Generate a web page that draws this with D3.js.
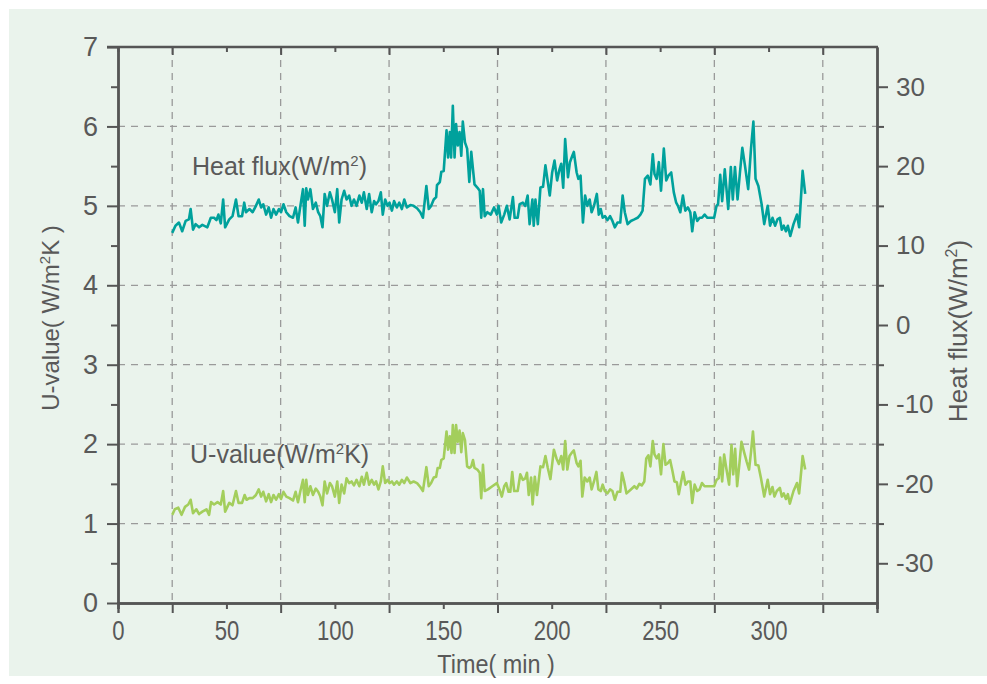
<!DOCTYPE html>
<html><head><meta charset="utf-8">
<script src="https://cdn.jsdelivr.net/npm/d3@7"></script>
<style>
html,body{margin:0;padding:0;background:#ffffff;}
svg{display:block;font-family:"Liberation Sans",Arial,sans-serif;}
</style></head>
<body><svg id="c" width="987" height="684"></svg>
<script>
// ---- data ----
const xLabelTicks = [0, 50, 100, 150, 200, 250, 300];
const xMajorTicks = [25, 75, 125, 175, 225, 275, 325];
const yLeftTicks = [0, 1, 2, 3, 4, 5, 6, 7];
const yRightTicks = [-30, -20, -10, 0, 10, 20, 30];

const hfTime = [25.0,26.5,28.1,29.6,31.2,32.7,33.5,34.6,35.8,37.4,38.9,41.2,42.8,44.3,45.4,46.3,47.4,48.5,49.4,51.3,52.8,54.4,55.6,57.2,58.2,59.0,60.6,62.1,63.6,64.9,66.0,67.0,68.3,69.5,70.6,71.7,72.9,74.2,75.2,76.3,77.6,79.1,80.7,81.9,83.0,84.1,85.3,86.1,86.8,87.6,88.7,89.9,91.2,92.3,93.3,94.3,95.3,96.4,97.7,98.7,100.0,101.1,102.0,103.1,104.3,105.4,106.6,107.7,108.8,110.0,111.3,112.4,113.4,114.7,115.8,117.0,118.1,119.0,120.1,121.2,122.1,123.2,124.3,125.2,126.3,127.3,128.6,129.7,130.9,132.0,133.2,134.8,136.3,137.9,139.4,140.6,142.2,143.3,144.4,145.6,146.7,147.1,148.4,149.1,150.2,151.5,152.2,153.0,153.6,154.4,155.2,155.9,156.7,157.5,158.3,159.0,160.0,161.0,162.0,162.9,163.7,164.4,165.7,166.8,167.5,168.3,169.1,170.3,171.9,173.4,174.7,
175.5,176.7,178.1,179.3,180.6,182.1,182.9,184.3,185.2,186.7,187.8,188.9,189.8,191.1,191.7,192.5,193.6,194.8,196.0,197.1,198.2,199.1,200.2,201.3,202.5,203.6,204.4,205.3,206.2,207.5,208.4,209.5,210.2,211.5,212.3,213.3,214.4,215.4,216.4,217.5,218.4,219.5,220.8,221.7,222.6,223.5,224.6,225.7,226.9,228.0,229.1,230.3,231.6,232.7,233.7,235.0,236.5,238.1,239.6,240.9,241.9,243.0,244.3,245.5,246.6,247.4,248.4,249.4,250.4,251.7,252.8,253.8,255.1,256.3,257.4,258.2,259.3,260.5,261.6,262.8,263.9,264.8,265.9,267.1,268.2,269.3,270.5,271.8,272.9,274.9,276.0,276.7,277.7,278.6,279.8,281.4,282.6,283.5,284.5,285.7,286.8,287.9,289.1,290.6,291.9,293.0,294.0,295.3,296.8,298.0,299.6,300.7,301.8,303.0,304.1,305.2,306.1,307.0,308.0,308.9,310.0,311.5,313.1,314.1,315.7,316.9];
const hfValue = [11.6,12.5,12.9,11.8,13.1,13.3,14.6,12.0,12.7,12.3,12.6,12.3,13.5,13.5,13.2,13.9,12.8,15.8,12.3,13.3,13.7,15.8,13.7,13.7,15.4,14.2,14.6,14.2,15.0,15.8,14.8,15.2,13.9,14.8,13.5,14.6,13.9,14.6,14.2,15.2,14.2,13.7,13.5,14.8,12.9,15.0,17.1,12.5,17.2,15.8,17.1,14.6,15.4,14.2,13.7,12.3,16.5,15.0,16.7,15.8,14.2,17.1,12.9,15.8,16.9,15.8,16.3,15.0,15.8,15.0,16.3,15.4,16.7,14.6,16.5,14.2,15.6,15.2,15.6,16.7,13.9,15.8,15.0,15.4,14.4,15.6,14.8,15.4,14.6,15.8,14.8,15.1,15.0,14.7,14.2,13.5,17.5,14.6,15.0,15.8,16.1,17.6,18.0,19.3,19.4,24.5,21.1,24.3,21.1,27.6,21.1,25.3,22.6,24.3,21.3,25.6,23.0,22.2,18.0,21.8,19.6,17.7,17.3,16.9,13.5,17.1,13.7,14.2,13.9,14.8,13.9,
15.0,12.9,13.9,15.0,13.3,16.1,13.5,13.5,15.2,15.4,15.0,16.3,12.7,15.8,12.5,15.8,12.7,17.3,17.4,20.1,18.0,16.3,19.2,20.7,18.2,19.6,20.3,17.3,23.4,18.6,20.5,21.3,21.8,19.2,18.4,18.8,12.9,16.3,15.0,15.8,14.2,15.0,16.5,13.9,14.6,13.5,13.7,13.2,13.7,13.1,12.3,12.9,12.9,16.3,14.2,12.7,13.1,13.3,13.5,13.9,14.4,18.4,18.8,17.7,21.5,19.0,18.4,20.5,16.9,22.2,18.2,18.8,19.2,16.7,15.4,15.0,14.2,16.3,14.4,14.8,14.2,11.8,14.2,13.1,13.5,13.5,13.9,13.5,13.5,13.5,15.0,15.2,18.9,15.6,19.6,14.6,19.9,15.8,19.9,15.8,19.2,22.3,20.1,17.1,22.2,25.6,18.4,17.5,15.2,12.7,15.0,12.5,13.5,12.5,13.3,13.5,12.0,12.5,11.8,12.5,11.2,12.7,13.9,12.3,19.4,16.5];

const uTime = [25.0,26.2,27.8,29.3,30.9,32.4,33.5,34.6,36.1,37.4,38.9,40.8,42.0,42.9,44.3,45.9,47.4,48.5,49.4,51.3,52.8,54.4,55.6,57.2,58.4,59.3,60.6,62.1,63.6,64.9,66.0,67.0,68.3,69.5,70.6,71.7,72.9,74.2,75.2,76.3,77.6,79.1,80.7,81.9,83.0,84.1,85.3,86.1,86.8,87.6,88.7,89.9,91.2,92.3,93.3,94.3,95.3,96.4,97.7,98.7,100.0,101.1,102.0,103.1,104.3,105.4,106.6,107.7,108.8,110.0,111.3,112.4,113.4,114.7,115.8,117.0,118.1,119.0,120.1,121.2,122.1,123.2,124.3,125.2,126.3,127.3,128.6,129.7,130.9,132.0,133.2,134.8,136.3,137.9,139.4,140.6,142.2,143.3,144.4,145.6,146.7,147.4,148.4,149.1,150.2,151.5,152.2,153.0,153.8,154.4,155.2,155.9,156.7,157.5,158.3,159.0,160.0,161.0,162.0,162.9,163.7,164.4,165.7,166.8,167.5,168.3,169.1,170.6,172.6,174.7,
175.9,177.0,178.1,179.0,180.1,180.9,181.8,182.7,184.3,185.5,186.7,187.8,188.6,189.4,190.5,191.2,192.2,193.2,194.8,196.0,197.1,198.2,199.4,201.0,202.2,203.3,204.4,205.3,206.2,207.2,208.2,209.2,210.2,211.5,212.3,213.3,214.1,215.2,216.4,217.5,218.4,219.5,220.6,221.5,222.6,223.5,224.5,225.7,226.9,228.0,229.1,230.3,231.6,232.4,233.4,234.5,236.5,238.1,239.2,240.4,241.5,242.7,243.6,244.6,245.5,246.6,247.4,248.4,249.4,250.4,251.5,252.5,253.5,254.6,255.7,256.6,257.7,258.6,259.7,260.6,261.7,262.8,263.9,264.8,265.9,267.1,268.2,269.3,270.5,272.1,273.6,274.9,276.0,277.0,277.7,278.6,279.5,280.6,281.8,282.9,283.7,284.6,285.5,286.5,287.5,288.8,289.9,291.0,291.9,292.8,294.0,295.3,296.5,298.0,299.6,300.7,301.8,302.7,303.8,305.2,306.1,307.0,308.0,308.9,309.8,311.5,313.1,314.1,315.7,316.9];
const uValue = [1.11,1.18,1.20,1.11,1.21,1.24,1.30,1.13,1.18,1.12,1.15,1.18,1.11,1.27,1.24,1.27,1.24,1.41,1.15,1.26,1.23,1.41,1.26,1.26,1.36,1.30,1.32,1.32,1.36,1.43,1.34,1.40,1.28,1.37,1.27,1.36,1.30,1.37,1.31,1.40,1.34,1.32,1.29,1.40,1.27,1.41,1.55,1.27,1.55,1.36,1.47,1.36,1.44,1.40,1.34,1.23,1.53,1.38,1.51,1.47,1.34,1.53,1.26,1.49,1.38,1.57,1.51,1.53,1.48,1.55,1.47,1.59,1.49,1.64,1.49,1.55,1.49,1.53,1.43,1.53,1.72,1.51,1.55,1.51,1.53,1.49,1.53,1.49,1.55,1.51,1.58,1.51,1.53,1.51,1.46,1.41,1.71,1.47,1.51,1.58,1.59,1.70,1.70,1.80,1.82,2.16,1.93,2.10,1.89,2.24,1.89,2.24,2.03,2.17,1.90,2.14,2.05,1.72,1.70,1.72,1.80,1.70,1.68,1.64,1.32,1.74,1.41,1.43,1.47,1.51,
1.43,1.34,1.47,1.51,1.40,1.40,1.65,1.41,1.41,1.62,1.55,1.57,1.64,1.36,1.58,1.24,1.59,1.36,1.72,1.71,1.85,1.70,1.56,1.93,1.82,1.75,1.85,1.68,2.04,1.68,1.85,1.89,1.92,1.76,1.72,1.79,1.34,1.58,1.53,1.58,1.43,1.53,1.65,1.43,1.41,1.49,1.41,1.38,1.43,1.41,1.30,1.40,1.40,1.64,1.53,1.38,1.43,1.47,1.44,1.50,1.48,1.53,1.82,1.86,1.72,2.04,1.87,1.82,1.87,1.62,2.00,1.74,1.76,1.80,1.66,1.53,1.52,1.37,1.53,1.65,1.49,1.53,1.53,1.26,1.49,1.41,1.43,1.51,1.47,1.47,1.47,1.47,1.55,1.57,1.83,1.53,1.87,1.68,1.49,1.99,1.62,1.94,1.47,1.74,2.03,1.89,1.78,1.68,1.90,2.16,1.74,1.73,1.57,1.34,1.55,1.37,1.46,1.34,1.41,1.45,1.34,1.38,1.31,1.37,1.25,1.41,1.51,1.38,1.85,1.68];

// ---- chart ----
const svg = d3.select("#c");
const W = 987, H = 684;
const bg = "#EAF3EC", axisCol = "#555555", textCol = "#595959", gridCol = "#9a9a9a";
const hfCol = "#00A19C", uCol = "#A3CE5C";
const FONT = "'Liberation Sans',Arial,sans-serif";

svg.append("rect").attr("x", 9).attr("y", 9).attr("width", W - 9).attr("height", H - 17).attr("fill", bg);

const x = d3.scaleLinear().domain([0, 350]).range([118, 877]);
const yL = d3.scaleLinear().domain([0, 7]).range([603, 47]);
const yR = d3.scaleLinear().domain([-35, 35]).range([603, 47]);

// grid
const g = svg.append("g").attr("stroke", gridCol).attr("stroke-width", 1.3).attr("stroke-dasharray", "7,6").attr("fill", "none");
xMajorTicks.forEach(v => g.append("line").attr("x1", x(v)).attr("x2", x(v)).attr("y1", yL(7)).attr("y2", yL(0)));
[1, 2, 3, 4, 5, 6].forEach(v => g.append("line").attr("x1", x(0)).attr("x2", x(350)).attr("y1", yL(v)).attr("y2", yL(v)));

// lines
const hfData = hfTime.map((t, i) => [t, hfValue[i]]);
const uData = uTime.map((t, i) => [t, uValue[i]]);
svg.append("path").datum(uData).attr("fill", "none").attr("stroke", uCol).attr("stroke-width", 2.6).attr("stroke-linejoin", "round")
  .attr("d", d3.line().x(d => x(d[0])).y(d => yL(d[1])));
svg.append("path").datum(hfData).attr("fill", "none").attr("stroke", hfCol).attr("stroke-width", 2.6).attr("stroke-linejoin", "round")
  .attr("d", d3.line().x(d => x(d[0])).y(d => yR(d[1])));

function styleAxis(sel) {
  sel.select(".domain").attr("stroke", axisCol).attr("stroke-width", 2.4);
  sel.selectAll(".tick line").attr("stroke", axisCol).attr("stroke-width", 2);
  sel.selectAll(".tick text").attr("fill", textCol).style("font-family", FONT);
}

// bottom axis
const xb1 = svg.append("g").attr("transform", `translate(0,${yL(0)})`)
  .call(d3.axisBottom(x).tickValues(xLabelTicks.concat([350])).tickSize(6).tickPadding(12).tickFormat(d => d === 350 ? "" : String(d)));
styleAxis(xb1);
xb1.selectAll(".tick text").style("font-size", "27px").attr("transform", "scale(0.82,1)");
const xb2 = svg.append("g").attr("transform", `translate(0,${yL(0)})`)
  .call(d3.axisBottom(x).tickValues(xMajorTicks).tickSize(10).tickFormat(""));
styleAxis(xb2);
// top axis (inner ticks)
const xt1 = svg.append("g").attr("transform", `translate(0,${yL(7)})`)
  .call(d3.axisBottom(x).tickValues(xLabelTicks).tickSize(5).tickFormat(""));
styleAxis(xt1);
const xt2 = svg.append("g").attr("transform", `translate(0,${yL(7)})`)
  .call(d3.axisBottom(x).tickValues(xMajorTicks).tickSize(8).tickFormat(""));
styleAxis(xt2);
xt1.select(".domain").remove(); xt2.select(".domain").remove();
svg.append("line").attr("x1", x(0) - 11).attr("x2", x(350) + 1).attr("y1", yL(7)).attr("y2", yL(7)).attr("stroke", axisCol).attr("stroke-width", 2.4);

// left axis
const yl1 = svg.append("g").attr("transform", `translate(${x(0)},0)`)
  .call(d3.axisLeft(yL).tickValues(yLeftTicks).tickSize(11).tickPadding(9).tickSizeOuter(0).tickFormat(d => String(d)));
styleAxis(yl1);
yl1.selectAll(".tick text").style("font-size", "27px");
const yl2 = svg.append("g").attr("transform", `translate(${x(0)},0)`)
  .call(d3.axisLeft(yL).tickValues(d3.range(0.5, 7, 1)).tickSize(7).tickFormat("").tickSizeOuter(0));
styleAxis(yl2);

// right axis
const yr1 = svg.append("g").attr("transform", `translate(${x(350)},0)`)
  .call(d3.axisRight(yR).tickValues(yRightTicks).tickSize(11).tickPadding(8).tickSizeOuter(0).tickFormat(d => String(d)));
styleAxis(yr1);
yr1.selectAll(".tick text").style("font-size", "26px");
const yr2 = svg.append("g").attr("transform", `translate(${x(350)},0)`)
  .call(d3.axisRight(yR).tickValues([-25, -15, -5, 5, 15, 25]).tickSize(7).tickFormat("").tickSizeOuter(0));
styleAxis(yr2);

// axis titles
svg.append("text").attr("transform", `translate(496,673) scale(0.9,1)`).attr("text-anchor", "middle")
  .attr("fill", textCol).style("font-size", "26px").text("Time( min )");
const yt = svg.append("text").attr("transform", `translate(59,318) rotate(-90)`).attr("text-anchor", "middle")
  .attr("fill", textCol).style("font-size", "24px");
yt.append("tspan").text("U-value( W/m");
yt.append("tspan").attr("dy", -9).style("font-size", "15px").text("2");
yt.append("tspan").attr("dy", 9).text("K )");
const rt = svg.append("text").attr("transform", `translate(967,331) rotate(-90)`).attr("text-anchor", "middle")
  .attr("fill", textCol).style("font-size", "26px");
rt.append("tspan").text("Heat flux(W/m");
rt.append("tspan").attr("dy", -10).style("font-size", "16px").text("2");
rt.append("tspan").attr("dy", 10).text(")");

// series annotations
const a1 = svg.append("text").attr("x", 192).attr("y", 175).attr("fill", textCol).style("font-size", "25px");
a1.append("tspan").text("Heat flux(W/m");
a1.append("tspan").attr("dy", -9).style("font-size", "15px").text("2");
a1.append("tspan").attr("dy", 9).text(")");
const a2 = svg.append("text").attr("x", 190).attr("y", 463).attr("fill", textCol).style("font-size", "25px");
a2.append("tspan").text("U-value(W/m");
a2.append("tspan").attr("dy", -9).style("font-size", "15px").text("2");
a2.append("tspan").attr("dy", 9).text("K)");
</script></body></html>
